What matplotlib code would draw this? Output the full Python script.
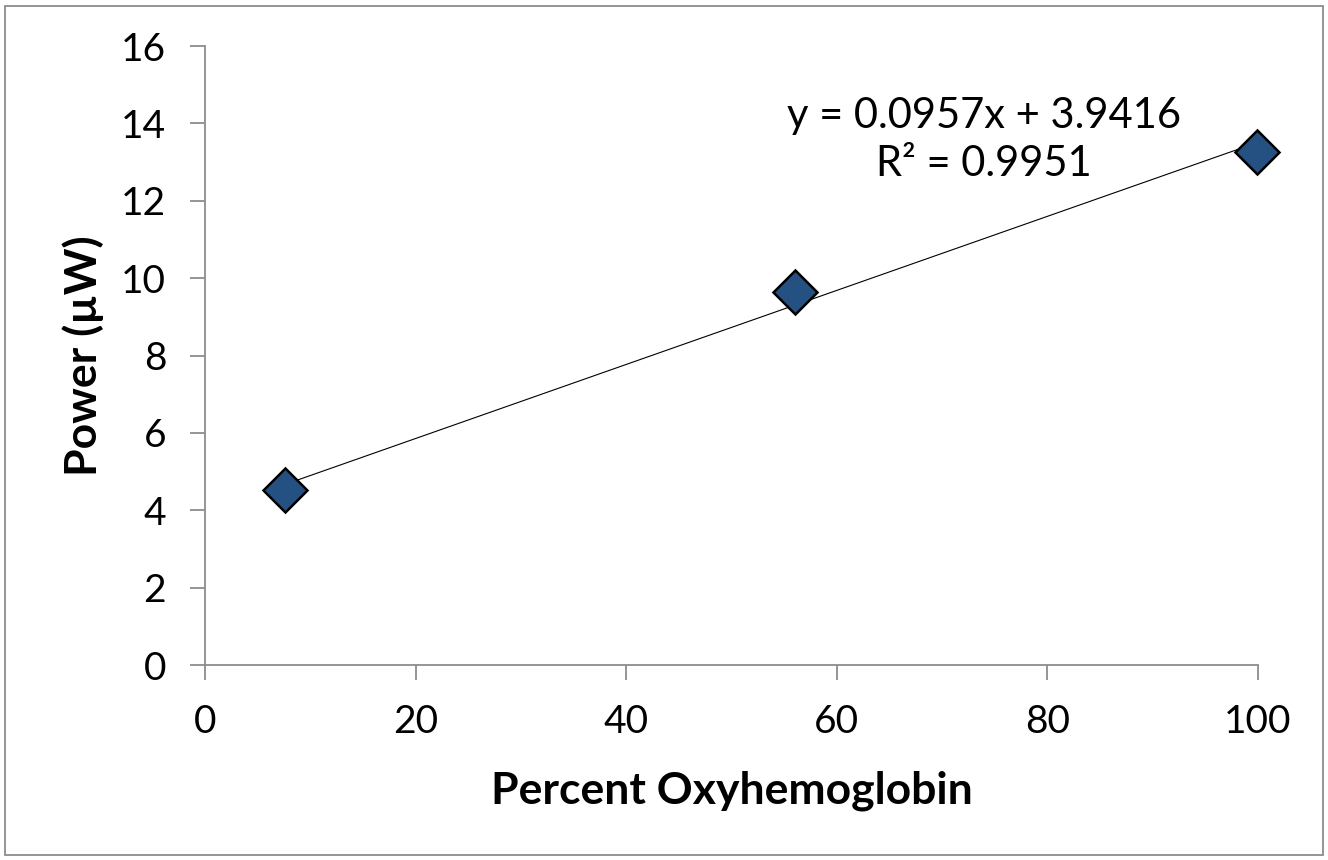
import matplotlib
matplotlib.use("Agg")
import matplotlib.pyplot as plt
from matplotlib.patches import Rectangle
import numpy as np

# data
pct_oxy = [7.6, 56.0, 99.9]
power_uw = [4.52, 9.64, 13.27]

# trendline as printed on the chart
slope = 0.0957
intercept = 3.9416
r_squared = 0.9951

x_ticks = [0, 20, 40, 60, 80, 100]
y_ticks = [0, 2, 4, 6, 8, 10, 12, 14, 16]

plt.rcParams['font.family'] = ['Lato', 'DejaVu Sans']

fig = plt.figure(figsize=(13.28, 8.6), dpi=100)
ax = fig.add_axes([0.1544, 0.2267, 0.7929, 0.7198])

# linear trendline over data range
xs = np.array([min(pct_oxy), max(pct_oxy)])
ax.plot(xs, slope * xs + intercept, color='black', lw=0.8, zorder=2)

ax.plot(pct_oxy, power_uw, linestyle='none', marker='D', markersize=22,
        markerfacecolor='#245082', markeredgecolor='black', markeredgewidth=1.8,
        zorder=3, clip_on=False)

ax.set_xlim(0, 100)
ax.set_ylim(0, 16)
ax.set_xticks(x_ticks)
ax.set_yticks(y_ticks)

for s in ['top', 'right']:
    ax.spines[s].set_visible(False)
for s in ['left', 'bottom']:
    ax.spines[s].set_color('#8c8c8c')
    ax.spines[s].set_linewidth(1.3)

ax.tick_params(axis='both', direction='out', length=11, width=1.3, color='#8c8c8c',
               labelsize=28, labelcolor='black')
ax.tick_params(axis='y', pad=17)
ax.tick_params(axis='x', pad=17)

ax.set_xlabel("Percent Oxyhemoglobin", fontsize=32, fontweight='bold', labelpad=22)
ax.set_ylabel("Power (\u00b5W)", fontsize=32, fontweight='bold', labelpad=12)

ax.text(74.0, 13.57, "y = {:.4f}x + {:.4f}\nR\u00b2 = {:.4f}".format(slope, intercept, r_squared),
        ha='center', va='center', fontsize=30, linespacing=1.3)

fig.patches.append(Rectangle((0.004, 0.006), 0.992, 0.987, transform=fig.transFigure,
                             fill=False, edgecolor='#8c8c8c', linewidth=1.3))

fig.savefig("out.png", dpi=100)
